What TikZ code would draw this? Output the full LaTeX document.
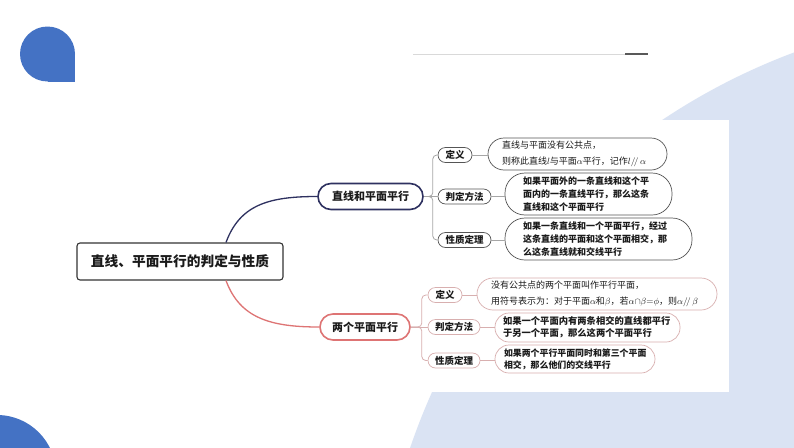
\documentclass[tikz,border=0pt]{standalone}
\usepackage{fontspec}
\setmainfont{Noto Sans CJK SC}
\usetikzlibrary{calc}
\definecolor{blueA}{HTML}{4472C4}
\definecolor{blueL}{HTML}{DAE3F3}
\definecolor{navy}{HTML}{2E3160}
\definecolor{rose}{HTML}{DE7474}
\definecolor{roseL}{HTML}{D8AFAF}
\definecolor{grayC}{HTML}{A6A6A6}
\definecolor{grayB}{HTML}{555555}
\definecolor{lineL}{HTML}{D9D9D9}
\definecolor{lineD}{HTML}{595959}
\definecolor{txt}{HTML}{1A1A1A}
\begin{document}
\begin{tikzpicture}[x=1pt,y=-1pt,
  rootbox/.style={draw=black!80, line width=1.1pt, rounded corners=3pt, minimum width=206pt, minimum height=37pt, inner sep=0pt, text=txt, font=\fontsize{13.7}{16}\selectfont\bfseries},
  lvA/.style={draw=navy, line width=1.6pt, rounded corners=13pt, minimum height=26pt, inner sep=0pt, text=txt, font=\fontsize{11}{13}\selectfont\bfseries},
  lvB/.style={lvA, draw=rose},
  subA/.style={draw=grayB, line width=0.7pt, rounded corners=7.5pt, minimum height=15pt, inner sep=0pt, text=txt, font=\fontsize{9.5}{11}\selectfont\bfseries},
  subB/.style={subA, draw=roseL},
  leafA/.style={draw=grayB, line width=0.7pt, align=left, inner ysep=2pt, text=txt},
  leafB/.style={leafA, draw=roseL},
  sansleaf/.style={font=\fontsize{9}{13}\selectfont\bfseries},
  serifleaf/.style={font=\fontsize{9}{16}\selectfont},
  conA/.style={draw=grayC, line width=0.8pt, rounded corners=4pt},
  conB/.style={draw=roseL, line width=0.8pt, rounded corners=4pt},
]
\useasboundingbox (0,0) rectangle (794,447);
\begin{scope}
\clip (0,0) rectangle (794,447);
\fill[white] (0,0) rectangle (794,447);
\fill[blueL] (1019,655) circle[radius=643pt];
\fill[white] (380,120) rectangle (729,392);
\fill[blueA] (47.5,54) circle[radius=27.5pt];
\fill[blueA] (47.5,54) rectangle (75,82);
\fill[blueA] (-3,474) circle[radius=59pt];
\end{scope}
\draw[lineL, line width=0.8pt] (413,54) -- (625,54);
\draw[lineD, line width=2pt] (625,54) -- (648,54);

% root and level 1
\node[rootbox] (root) at (180,261.5) {直线、平面平行的判定与性质};
\node[lvA, minimum width=105pt] (a) at (370.5,196.5) {直线和平面平行};
\node[lvB, minimum width=90pt] (b) at (365,327) {两个平面平行};
\draw[navy, line width=1.3pt] ([xshift=46pt]root.north) .. controls ++(14,-38) and ++(-48,0) .. (a.west);
\draw[rose, line width=1.3pt] ([xshift=46pt]root.south) .. controls ++(14,38) and ++(-48,0) .. (b.west);

% top sub nodes
\node[subA, minimum width=34pt] (a1) at (455,155) {定义};
\node[subA, minimum width=53pt] (a2) at (464.5,196.5) {判定方法};
\node[subA, minimum width=53pt] (a3) at (464.5,240) {性质定理};
\draw[conA] (a.east) -- ++(9,0) |- (a1.west);
\draw[conA] (a.east) -- (a2.west);
\draw[conA] (a.east) -- ++(9,0) |- (a3.west);

% bottom sub nodes
\node[subB, minimum width=34pt] (b1) at (445,295) {定义};
\node[subB, minimum width=52pt] (b2) at (454,327) {判定方法};
\node[subB, minimum width=52pt] (b3) at (454,360.5) {性质定理};
\draw[conB] (b.east) -- ++(11,0) |- (b1.west);
\draw[conB] (b.east) -- (b2.west);
\draw[conB] (b.east) -- ++(11,0) |- (b3.west);

% top leaves
\node[leafA, serifleaf, text width=151pt, inner xsep=14pt, minimum height=32pt, rounded corners=16pt] (at1) at (577.5,154)
  {直线与平面没有公共点，\\则称此直线$l$与平面$\alpha$平行，记作${l/\!/\,\alpha}$};
\node[leafA, sansleaf, text width=131pt, inner xsep=18pt, minimum height=42pt, rounded corners=20pt] (at2) at (588.5,194)
  {如果平面外的一条直线和这个平\\面内的一条直线平行，那么这条\\直线和这个平面平行};
\node[leafA, sansleaf, text width=151pt, inner xsep=18pt, minimum height=42pt, rounded corners=20pt] (at3) at (598.5,239)
  {如果一条直线和一个平面平行，经过\\这条直线的平面和这个平面相交，那\\么这条直线就和交线平行};
\draw[conA] (a1.east) -- (at1.west |- a1.east);
\draw[conA] (a2.east) -- (at2.west |- a2.east);
\draw[conA] (a3.east) -- (at3.west |- a3.east);

% bottom leaves
\node[leafB, serifleaf, text width=212pt, inner xsep=14pt, minimum height=32pt, rounded corners=16pt] (bt1) at (597,294)
  {没有公共点的两个平面叫作平行平面，\\\mbox{用符号表示为：对于平面$\alpha$和$\beta$，若${\alpha{\cap}\beta{=}\phi}$，则${\alpha/\!/\,\beta}$}};
\node[leafB, font=\fontsize{9.3}{12}\selectfont\bfseries, text width=169pt, inner xsep=8pt, minimum height=29pt, rounded corners=14pt] (bt2) at (587.5,327.5)
  {如果一个平面内有两条相交的直线都平行\\于另一个平面，那么这两个平面平行};
\node[leafB, font=\fontsize{8.9}{12}\selectfont\bfseries, text width=142pt, inner xsep=9pt, minimum height=28pt, rounded corners=14pt] (bt3) at (575,359)
  {如果两个平行平面同时和第三个平面\\相交，那么他们的交线平行};
\draw[conB] (b1.east) -- (bt1.west |- b1.east);
\draw[conB] (b2.east) -- (bt2.west |- b2.east);
\draw[conB] (b3.east) -- (bt3.west |- b3.east);
\end{tikzpicture}
\end{document}
